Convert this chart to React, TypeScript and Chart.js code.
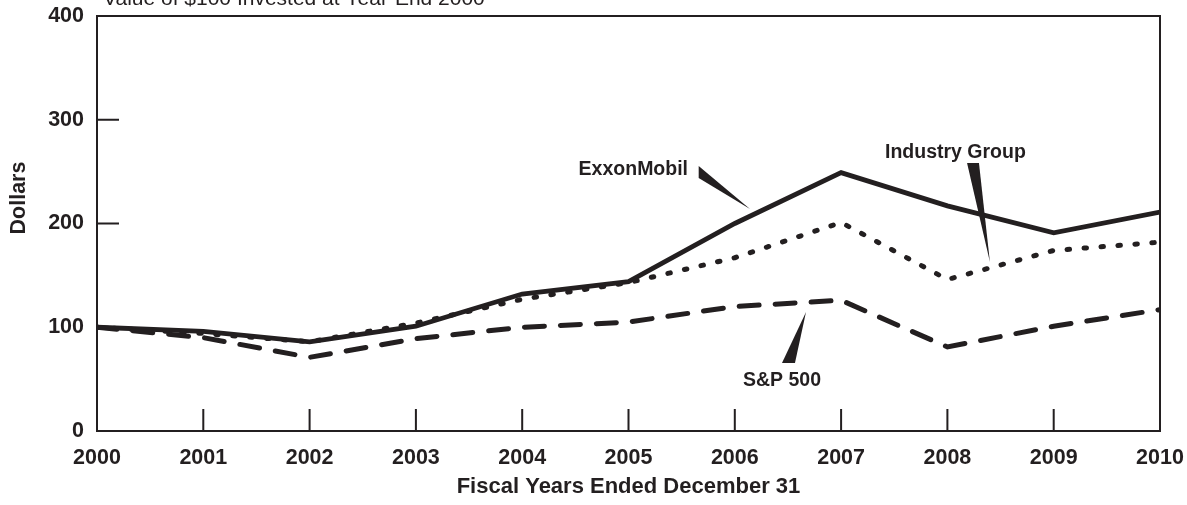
import React, { useEffect, useRef } from "react";
import { Chart, registerables } from "chart.js";

Chart.register(...registerables);

const years = [2000, 2001, 2002, 2003, 2004, 2005, 2006, 2007, 2008, 2009, 2010];
const exxonMobil = [100, 96, 86, 101, 132, 144, 200, 249, 217, 191, 211];
const industryGroup = [100, 94, 86, 104, 127, 143, 167, 201, 146, 174, 182];
const sp500 = [100, 90, 71, 89, 100, 105, 120, 126, 81, 101, 117];
const yTicks = [0, 100, 200, 300, 400];

const chartTitle = "Value of $100 Invested at Year-End 2000";
const xTitle = "Fiscal Years Ended December 31";
const yTitle = "Dollars";

// callouts in data units: label anchor, wedge base (two points), wedge tip
const callouts = [
  { text: "ExxonMobil", align: "right", at: [2005.56, 246.7], base: [[2005.66, 255.4], [2005.66, 243.9]], tip: [2006.143, 214] },
  { text: "Industry Group", align: "left", at: [2007.413, 263.1], base: [[2008.185, 258.3], [2008.297, 258.3]], tip: [2008.4, 162.9] },
  { text: "S&P 500", align: "left", at: [2006.077, 43.4], base: [[2006.444, 65.5], [2006.566, 65.5]], tip: [2006.67, 114.7] },
];

const INK = "#231f20";
const FONT = "'Liberation Sans', Arial, Helvetica, sans-serif";

const decorPlugin = {
  id: "decor",
  afterDatasetsDraw(chart: any) {
    const { ctx, chartArea } = chart;
    const xs = chart.scales.x;
    const ys = chart.scales.y;
    ctx.save();
    ctx.strokeStyle = INK;
    ctx.lineWidth = 2;
    ctx.strokeRect(chartArea.left, chartArea.top, chartArea.right - chartArea.left, chartArea.bottom - chartArea.top);
    // inward ticks
    ctx.beginPath();
    years.slice(1, -1).forEach((yr) => {
      const px = xs.getPixelForValue(yr);
      ctx.moveTo(px, chartArea.bottom);
      ctx.lineTo(px, chartArea.bottom - 22);
    });
    yTicks.slice(1, -1).forEach((v) => {
      const py = ys.getPixelForValue(v);
      ctx.moveTo(chartArea.left, py);
      ctx.lineTo(chartArea.left + 22, py);
    });
    ctx.stroke();

    // callouts
    ctx.fillStyle = INK;
    callouts.forEach((c) => {
      ctx.beginPath();
      ctx.moveTo(xs.getPixelForValue(c.base[0][0]), ys.getPixelForValue(c.base[0][1]));
      ctx.lineTo(xs.getPixelForValue(c.base[1][0]), ys.getPixelForValue(c.base[1][1]));
      ctx.lineTo(xs.getPixelForValue(c.tip[0]), ys.getPixelForValue(c.tip[1]));
      ctx.closePath();
      ctx.fill();
      ctx.font = `bold 19.5px ${FONT}`;
      ctx.textAlign = c.align;
      ctx.textBaseline = "alphabetic";
      ctx.fillText(c.text, xs.getPixelForValue(c.at[0]), ys.getPixelForValue(c.at[1]));
    });

    // chart title (cut off at top)
    ctx.font = `21px ${FONT}`;
    ctx.textAlign = "left";
    ctx.textBaseline = "alphabetic";
    ctx.fillText(chartTitle, 103, 5);

    // y title
    ctx.font = `bold 21.5px ${FONT}`;
    ctx.translate(25, 198);
    ctx.rotate(-Math.PI / 2);
    ctx.textAlign = "center";
    ctx.fillText(yTitle, 0, 0);
    ctx.restore();
  },
};

const zeroPad = (s: any) => {
  s.paddingTop = 0;
  s.paddingBottom = 0;
  s.paddingLeft = 0;
  s.paddingRight = 0;
};

export default function App() {
  const ref = useRef<HTMLCanvasElement | null>(null);
  useEffect(() => {
    if (!ref.current) return;
    const mk = (vals: number[]) => years.map((y, i) => ({ x: y, y: vals[i] }));
    const chart = new Chart(ref.current, {
      type: "line",
      data: {
        datasets: [
          { label: "S&P 500", data: mk(sp500), borderColor: INK, borderWidth: 5, borderDash: [20, 16], borderCapStyle: "round", pointRadius: 0, tension: 0, fill: false },
          { label: "Industry Group", data: mk(industryGroup), borderColor: INK, borderWidth: 5, borderDash: [2.5, 14.5], borderCapStyle: "round", pointRadius: 0, tension: 0, fill: false },
          { label: "ExxonMobil", data: mk(exxonMobil), borderColor: INK, borderWidth: 4.8, borderJoinStyle: "miter", pointRadius: 0, tension: 0, fill: false },
        ],
      },
      options: {
        animation: false,
        responsive: false,
        layout: { padding: { top: 16, right: 27, left: 0, bottom: 0 } },
        plugins: { legend: { display: false }, tooltip: { enabled: false }, title: { display: false } },
        scales: {
          x: {
            type: "linear",
            min: 2000,
            max: 2010,
            afterFit: (s: any) => { s.height = 74; zeroPad(s); },
            afterBuildTicks: (s: any) => { s.ticks = years.map((v) => ({ value: v })); },
            grid: { display: false, drawTicks: false },
            border: { display: false },
            ticks: {
              padding: 14,
              color: INK,
              font: { family: FONT, size: 21.5, weight: "bold" },
              callback: (v: any) => String(v),
              maxRotation: 0,
              autoSkip: false,
            },
            title: {
              display: true,
              text: xTitle,
              color: INK,
              font: { family: FONT, size: 22, weight: "bold" },
              padding: { top: 0, bottom: 5 },
            },
          },
          y: {
            min: 0,
            max: 400,
            afterFit: (s: any) => { s.width = 97; zeroPad(s); },
            afterBuildTicks: (s: any) => { s.ticks = yTicks.map((v) => ({ value: v })); },
            grid: { display: false, drawTicks: false },
            border: { display: false },
            ticks: {
              padding: 13,
              color: INK,
              font: { family: FONT, size: 21.5, weight: "bold" },
              callback: (v: any) => String(v),
            },
          },
        },
      },
      plugins: [decorPlugin],
    } as any);
    return () => chart.destroy();
  }, []);
  return (
    <div style={{ position: "fixed", left: 0, top: 0, width: 1187, height: 505, background: "#fff" }}>
      <canvas ref={ref} width={1187} height={505} style={{ display: "block", width: 1187, height: 505 }} />
    </div>
  );
}
